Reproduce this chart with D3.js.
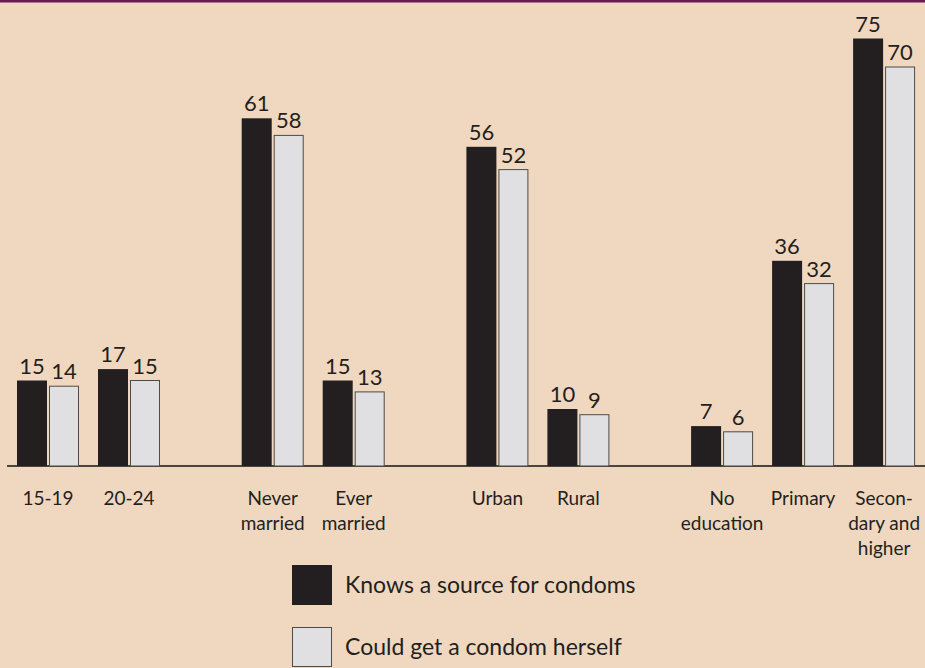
<!DOCTYPE html>
<html><head><meta charset="utf-8">
<script src="https://cdn.jsdelivr.net/npm/d3@7"></script>
<style>
html,body{margin:0;padding:0;background:#efd8bf;}
svg{display:block;}
text{font-family:Lato,"Open Sans",sans-serif;font-weight:400;fill:#231f20;}
</style></head>
<body>
<script>
const categories = ["15-19","20-24","Never married","Ever married","Urban","Rural","No education","Primary","Secondary and higher"];
const categoryLines = [["15-19"],["20-24"],["Never","married"],["Ever","married"],["Urban"],["Rural"],["No","education"],["Primary"],["Secon-","dary and","higher"]];
const groupIndex = [0,0,1,1,2,2,3,3,3];
const withinIndex = [0,1,0,1,0,1,0,1,2];
const knowsSource = [15,17,61,15,56,10,7,36,75];
const couldGet = [14,15,58,13,52,9,6,32,70];
const seriesNames = ["Knows a source for condoms","Could get a condom herself"];
const seriesColors = ["#231f20","#e0e0e2"];

const W = 925, H = 668;
const svg = d3.select("body").append("svg").attr("width", W).attr("height", H);
svg.append("rect").attr("width", W).attr("height", H).attr("fill", "#efd8bf");
svg.append("rect").attr("x",0).attr("y",0).attr("width",W).attr("height",2.5).attr("fill","#6a1b55");

const baseY = 466;
const y = d3.scaleLinear().domain([0, 75]).range([baseY, baseY - 75*5.7]);
const xGroup = d3.scaleLinear().domain([0, 1]).range([17, 241.7]);
const catStep = 81;
const barW = 30, gap = 2;
const catX = i => xGroup(groupIndex[i]) + withinIndex[i]*catStep;

const data = categories.map((c,i)=>({c, i, vals:[knowsSource[i], couldGet[i]]}));

// axis baseline
svg.append("line").attr("x1",7).attr("x2",W).attr("y1",baseY).attr("y2",baseY)
  .attr("stroke","#4a4542").attr("stroke-width",2);

const g = svg.append("g");
data.forEach(d=>{
  d.vals.forEach((v,s)=>{
    const x0 = catX(d.i) + s*(barW+gap);
    g.append("rect")
      .attr("x", x0 + (s?0.5:0)).attr("y", y(v))
      .attr("width", barW - (s?1:0)).attr("height", baseY - y(v))
      .attr("fill", seriesColors[s])
      .attr("stroke", s ? "#4d4a4a" : "none").attr("stroke-width", 1);
    g.append("text")
      .attr("x", x0 + barW/2).attr("y", y(v) - 7)
      .attr("text-anchor","middle").attr("font-size", 22)
      .text(v);
  });
  const cx = catX(d.i) + (2*barW+gap)/2;
  const t = g.append("text").attr("text-anchor","middle").attr("font-size",19);
  categoryLines[d.i].forEach((ln,k)=>{
    t.append("tspan").attr("x",cx).attr("y",505 + k*25).text(ln);
  });
});

// legend
seriesNames.forEach((n,s)=>{
  const ly = 565 + s*62;
  svg.append("rect").attr("x",292.5).attr("y",ly+0.5).attr("width",39).attr("height",39)
    .attr("fill",seriesColors[s]).attr("stroke", s ? "#4d4a4a" : seriesColors[0]).attr("stroke-width",1);
  svg.append("text").attr("x",345).attr("y",ly+28).attr("font-size",23).text(n);
});
</script>
</body></html>
